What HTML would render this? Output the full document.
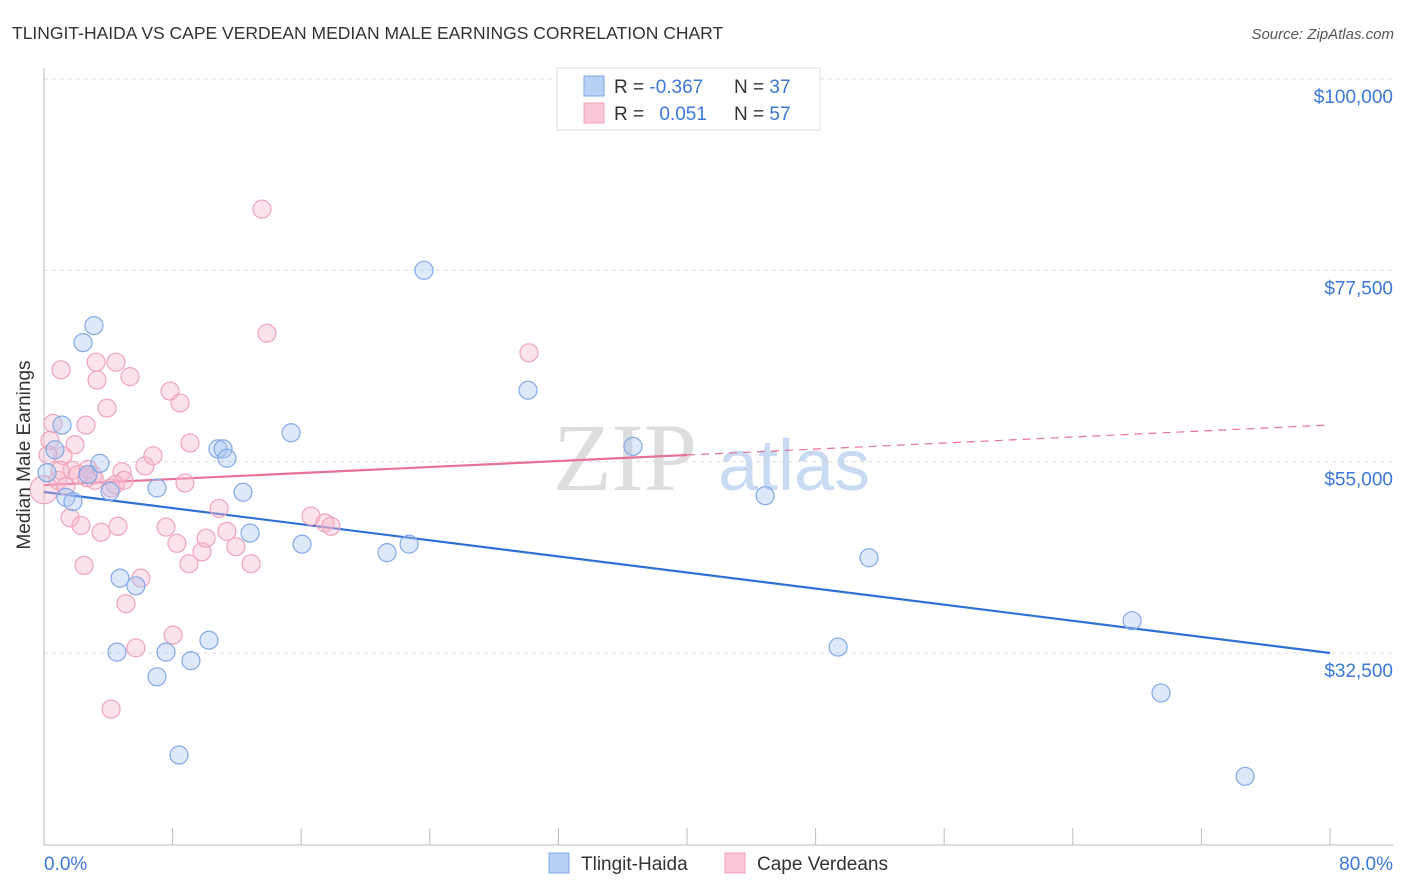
<!DOCTYPE html>
<html><head><meta charset="utf-8"><style>
body{margin:0;background:#fff;font-family:"Liberation Sans",sans-serif;}
svg{display:block}
</style></head><body>
<svg id="chart" width="1406" height="892" viewBox="0 0 1406 892">
<text x="12" y="39" font-size="17.5" fill="#333">TLINGIT-HAIDA VS CAPE VERDEAN MEDIAN MALE EARNINGS CORRELATION CHART</text>
<text x="1394" y="39" font-size="15" fill="#555" font-style="italic" text-anchor="end">Source: ZipAtlas.com</text>
<g>
<text x="553" y="490" font-size="96" fill="#ddd" font-family="Liberation Serif,serif">ZIP</text>
<text x="718" y="490" font-size="72" fill="#c9daf3">atlas</text>
</g>
<g id="grid"></g>
<g id="axes"></g>
<g id="trends"></g>
<g id="points"></g>
<text x="30" y="455" font-size="19" fill="#333" text-anchor="middle" transform="rotate(-90 30 455)">Median Male Earnings</text>
<text x="44" y="870" font-size="19" fill="#3b78d8">0.0%</text>
<text x="1393" y="870" font-size="19" fill="#3b78d8" text-anchor="end">80.0%</text>
<g>
<rect x="557" y="68" width="263" height="62" fill="#fff" stroke="#ddd"/>
<rect x="584" y="76" width="20" height="20" fill="#b9d0f5" stroke="#7fa8e8"/>
<rect x="584" y="103" width="20" height="20" fill="#f9c6d5" stroke="#f0a0b8"/>
<text x="614" y="93" font-size="19" fill="#333">R = <tspan fill="#3b78d8">-0.367</tspan></text>
<text x="734" y="93" font-size="19" fill="#333">N = <tspan fill="#3b78d8">37</tspan></text>
<text x="614" y="120" font-size="19" fill="#333">R = <tspan fill="#3b78d8" dx="10">0.051</tspan></text>
<text x="734" y="120" font-size="19" fill="#333">N = <tspan fill="#3b78d8">57</tspan></text>
</g>
<g>
<rect x="549" y="853" width="20" height="20" fill="#b9d0f5" stroke="#7fa8e8"/>
<text x="581" y="870" font-size="19" fill="#333">Tlingit-Haida</text>
<rect x="725" y="853" width="20" height="20" fill="#f9c6d5" stroke="#f0a0b8"/>
<text x="757" y="870" font-size="19" fill="#333">Cape Verdeans</text>
</g>
</svg>
<script>
const yTicks=[100000,77500,55000,32500];
const yTickLabels=["$100,000","$77,500","$55,000","$32,500"];
const xTicks=[0,8,16,24,32,40,48,56,64,72,80];
const blueX=[0.19,0.68,1.12,1.37,1.80,2.43,2.74,3.11,3.48,4.11,4.54,4.73,5.72,7.03,7.03,7.59,8.40,9.14,10.26,10.82,11.14,11.38,12.38,12.82,15.37,16.05,21.34,22.71,23.64,30.11,36.64,44.86,49.40,51.32,67.69,69.49,74.72];
const blueY=[53.7,56.4,59.3,50.8,50.3,69.0,53.5,71.0,54.8,51.5,32.6,41.3,40.4,51.9,29.7,32.6,20.5,31.6,34.0,56.5,56.5,55.4,51.4,46.6,58.4,45.3,44.3,45.3,77.5,63.4,56.8,51.0,33.2,43.7,36.3,27.8,18.0];
const pinkX=[0,0.37,0.56,0.87,1.06,1.18,1.37,1.62,1.74,1.93,2.12,2.30,2.49,2.61,2.74,3.05,3.24,3.30,3.55,3.92,4.17,4.17,4.48,4.60,4.85,4.98,5.10,5.35,5.72,6.03,6.28,6.78,7.59,7.84,8.03,8.27,8.46,8.77,9.02,9.08,9.83,10.08,10.89,11.38,11.94,12.88,13.56,13.87,16.61,17.48,17.85,30.17,2.67,1.0,0.25,4.42,3.17];
const pinkY=[51.7,57.5,59.5,52.8,65.8,55.7,52.1,48.4,54.0,57.0,53.5,47.5,42.8,59.3,54.1,53.4,66.7,64.6,46.7,61.3,51.9,25.9,66.7,47.4,53.8,52.8,38.3,65.0,33.1,41.3,54.5,55.7,47.3,63.3,34.6,45.4,61.9,52.5,43.0,57.2,44.4,46.0,49.5,46.8,45.0,43.0,84.7,70.1,48.6,47.8,47.4,67.8,53.1,54.0,55.8,52.3,52.8];
const blueTrend=[[0,51.43],[80,32.5]];
const pinkTrend=[[0,52.25],[40,55.78],[80,59.31]];
const NS="http://www.w3.org/2000/svg";
const X=v=>44+v/80*1286;
const Y=v=>79+(100000-v)/22500*191.33;
function mk(tag,attrs,parent){const e=document.createElementNS(NS,tag);for(const k in attrs)e.setAttribute(k,attrs[k]);document.getElementById(parent).appendChild(e);return e;}
yTicks.forEach((t,i)=>{
 const l=mk('line',{x1:44,x2:1393,y1:Y(t),y2:Y(t),stroke:'#ddd','stroke-dasharray':'4,4'},'grid');
 
 
 const tx=mk('text',{x:1393,y:Y(t)+24,'font-size':19,fill:'#3b78d8','text-anchor':'end'},'grid');
 tx.textContent=yTickLabels[i];
 
 
});
let a=mk('line',{x1:44,x2:44,y1:68,y2:845,stroke:'#bbb'},'axes');


a=mk('line',{x1:44,x2:1393,y1:845,y2:845,stroke:'#bbb'},'axes');


xTicks.forEach(t=>{
 const l=mk('line',{x1:X(t),x2:X(t),y1:828,y2:845,stroke:'#bbb'},'axes');
 
 
});
function dot(x,y,r,fill,stroke,name){
 const c=mk('circle',{cx:X(x),cy:Y(y*1000),r:r,fill:fill,stroke:stroke,'stroke-width':1.2},'points');
 
 
}
pinkX.forEach((x,i)=>dot(x,pinkY[i],i===0?14:9,'rgba(248,182,202,0.4)','#eea4bc','cape-verdean-point'));
blueX.forEach((x,i)=>dot(x,blueY[i],9,'rgba(170,198,244,0.4)','#82a9e6','tlingit-haida-point'));
let t=mk('line',{x1:X(blueTrend[0][0]),y1:Y(blueTrend[0][1]*1000),x2:X(blueTrend[1][0]),y2:Y(blueTrend[1][1]*1000),stroke:'#2f6fd6','stroke-width':2.2},'trends');


t=mk('line',{x1:X(pinkTrend[0][0]),y1:Y(pinkTrend[0][1]*1000),x2:X(pinkTrend[1][0]),y2:Y(pinkTrend[1][1]*1000),stroke:'#e8709a','stroke-width':2.2},'trends');


t=mk('line',{x1:X(pinkTrend[1][0]),y1:Y(pinkTrend[1][1]*1000),x2:X(pinkTrend[2][0]),y2:Y(pinkTrend[2][1]*1000),stroke:'#e8709a','stroke-width':1.2,'stroke-dasharray':'8,6'},'trends');


</script>
</body></html>
